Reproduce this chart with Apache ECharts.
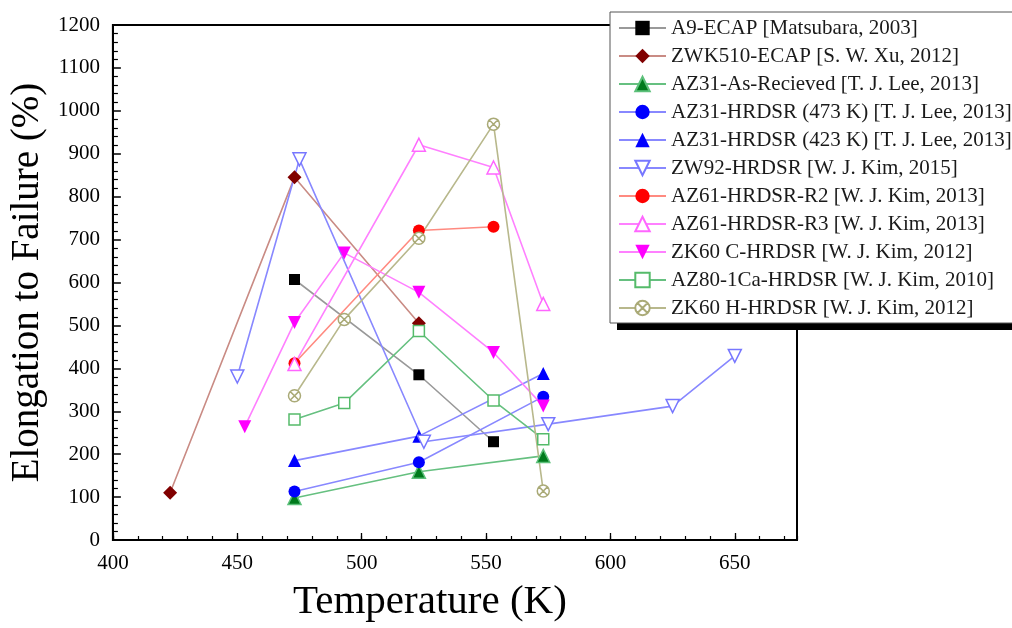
<!DOCTYPE html>
<html>
<head>
<meta charset="utf-8">
<script src="https://cdn.jsdelivr.net/npm/echarts@6/dist/echarts.min.js"></script>
<style>html,body{margin:0;padding:0;background:#fff}#c{width:1012px;height:628px}</style>
</head>
<body>
<div id="c"></div>
<script>
// Data: [temperature K, elongation %]
const seriesNames = [
  'A9-ECAP [Matsubara, 2003]',
  'ZWK510-ECAP [S. W. Xu, 2012]',
  'AZ31-As-Recieved [T. J. Lee, 2013]',
  'AZ31-HRDSR (473 K) [T. J. Lee, 2013]',
  'AZ31-HRDSR (423 K) [T. J. Lee, 2013]',
  'ZW92-HRDSR [W. J. Kim, 2015]',
  'AZ61-HRDSR-R2 [W. J. Kim, 2013]',
  'AZ61-HRDSR-R3 [W. J. Kim, 2013]',
  'ZK60 C-HRDSR [W. J. Kim, 2012]',
  'AZ80-1Ca-HRDSR [W. J. Kim, 2010]',
  'ZK60 H-HRDSR [W. J. Kim, 2012]'
];
const a9 = [[473,607],[523,385],[553,229]];
const zwk510 = [[423,110],[473,845],[523,505]];
const az31AsRec = [[473,98],[523,159],[573,196]];
const az31H473 = [[473,113],[523,181],[573,334]];
const az31H423 = [[473,185],[523,242],[573,388]];
const zw92 = [[450,381],[475,887],[525,229],[575,270],[625,312],[650,429]];
const az61R2 = [[473,412],[523,721],[553,730]];
const az61R3 = [[473,410],[523,921],[553,868],[573,550]];
const zk60C = [[453,264],[473,507],[493,669],[523,577],[553,437],[573,312]];
const az80 = [[473,281],[493,319],[523,487],[553,325],[573,235]];
const zk60H = [[473,336],[493,514],[523,703],[553,969],[573,114]];

const xMin = 400, xMax = 675, xStep = 50, xMinorStep = 10;
const yMin = 0, yMax = 1200, yStep = 100;

const FONT = "'Liberation Serif', 'DejaVu Serif', serif";
const circleX = 'path://M0,10a10,10 0 1,0 20,0a10,10 0 1,0 -20,0M3,3L17,17M17,3L3,17';

function mk(name, data, lineColor, symbol, size, fill, border, rotate) {
  return {
    name: name,
    type: 'line',
    data: data,
    symbol: symbol,
    symbolSize: size,
    symbolRotate: rotate || 0,
    symbolKeepAspect: true,
    lineStyle: { color: lineColor, width: 1.6 },
    itemStyle: { color: fill, borderColor: border, borderWidth: border === fill ? 0 : 1.5 },
    emphasis: { disabled: true },
    animation: false,
    z: 3
  };
}

const series = [
  mk(seriesNames[0], a9, '#999999', 'rect', 11, '#000000', '#000000'),
  mk(seriesNames[1], zwk510, '#c98b84', 'diamond', 14, '#800000', '#800000'),
  mk(seriesNames[2], az31AsRec, '#66c080', 'triangle', 13, '#007a1c', '#5cc07a'),
  mk(seriesNames[3], az31H473, '#8888ff', 'circle', 12, '#0000ff', '#0000ff'),
  mk(seriesNames[4], az31H423, '#8888ff', 'triangle', 13, '#0000ff', '#0000ff'),
  mk(seriesNames[5], zw92, '#8888ff', 'triangle', 13, '#ffffff', '#7777ff', 180),
  mk(seriesNames[6], az61R2, '#ff8a80', 'circle', 12, '#ff0000', '#ff0000'),
  mk(seriesNames[7], az61R3, '#ff80ff', 'triangle', 13, '#ffffff', '#ff66ff'),
  mk(seriesNames[8], zk60C, '#ff80ff', 'triangle', 13, '#ff00ff', '#ff00ff', 180),
  mk(seriesNames[9], az80, '#66c080', 'rect', 11, '#ffffff', '#55bb6a'),
  mk(seriesNames[10], zk60H, '#b8b88c', circleX, 12, '#ffffff', '#aaaa77')
];

const chart = echarts.init(document.getElementById('c'), null, { renderer: 'canvas' });
chart.setOption({
  backgroundColor: '#ffffff',
  animation: false,
  graphic: [{
    type: 'rect', left: 617, top: 20, z: 9, silent: true,
    shape: { width: 500, height: 310 },
    style: { fill: '#000' }
  }],
  grid: { left: 110, right: 215, top: 25, bottom: 88, show: true, borderColor: '#000', borderWidth: 2, backgroundColor: 'transparent' },
  legend: {
    data: seriesNames,
    orient: 'vertical',
    left: 610, top: 12,
    padding: [5, 40, 4, 8],
    itemWidth: 47, itemHeight: 18, itemGap: 6,
    backgroundColor: '#ffffff',
    borderColor: '#555',
    borderWidth: 1,
    selectedMode: false,
    textStyle: { fontFamily: FONT, fontSize: 21, color: '#1a1a1a', lineHeight: 22 },
    z: 10
  },
  xAxis: [{
    type: 'value', min: xMin, max: xMax, interval: xStep,
    name: 'Temperature (K)', nameLocation: 'middle', nameGap: 42,
    nameTextStyle: { fontFamily: FONT, fontSize: 41, color: '#000', padding: [0, 50, 0, 0] },
    axisLine: { show: true, lineStyle: { color: '#000', width: 2 } },
    axisTick: { show: true, inside: true, length: 7, lineStyle: { color: '#000', width: 1.3 } },
    axisLabel: { fontFamily: FONT, fontSize: 21, color: '#000', margin: 13, showMaxLabel: false },
    splitLine: { show: false }
  }, {
    type: 'value', min: xMin, max: xMax, interval: xMinorStep, position: 'bottom',
    axisLine: { show: false },
    axisTick: { show: true, inside: true, length: 4, lineStyle: { color: '#000', width: 1.2 } },
    axisLabel: { show: false },
    splitLine: { show: false }
  }],
  yAxis: {
    type: 'value', min: yMin, max: yMax, interval: yStep,
    name: 'Elongation to Failure (%)', nameLocation: 'middle', nameGap: 62,
    nameTextStyle: { fontFamily: FONT, fontSize: 39, color: '#000' },
    axisLine: { show: true, lineStyle: { color: '#000', width: 2 } },
    axisTick: { show: true, inside: true, length: 8, lineStyle: { color: '#000', width: 1.5 } },
    minorTick: { show: true, splitNumber: 5, length: 5, lineStyle: { color: '#000', width: 1.2 } },
    axisLabel: { fontFamily: FONT, fontSize: 21, color: '#000', margin: 13, formatter: function (v) { return String(v); } },
    splitLine: { show: false }
  },
  series: series
});
</script>
</body>
</html>
